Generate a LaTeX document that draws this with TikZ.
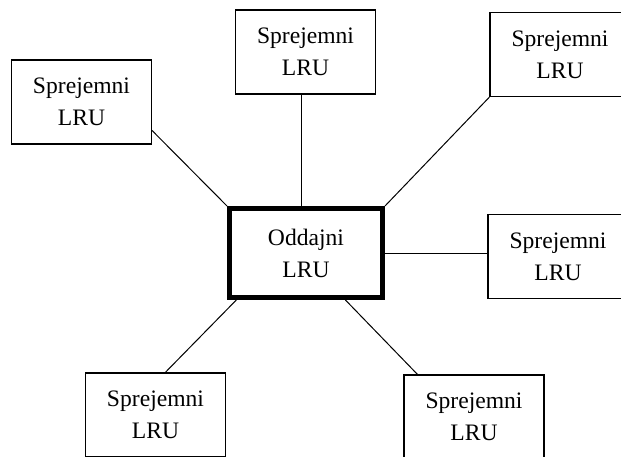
\documentclass[tikz,border=0pt]{standalone}
\usepackage{fontspec}
\setmainfont{Liberation Serif}
\begin{document}
\begin{tikzpicture}[x=0.5pt,y=-0.5pt,
 lru/.style={draw,line width=0.6pt,minimum width=70pt,minimum height=42pt,align=center,inner sep=0pt,font=\fontsize{11.8}{16}\selectfont},
 oddajni/.style={lru,line width=2.5pt,minimum width=76.5pt,minimum height=44.5pt},
 link/.style={line width=0.5pt}]
 \clip (0,0) rectangle (621,456);
 \node[lru] (tl) at (81.5,102) {Sprejemni\\LRU};
 \node[lru] (tc) at (305.5,52) {Sprejemni\\LRU};
 \node[lru] (tr) at (560,54.5) {Sprejemni\\LRU};
 \node[oddajni] (ctr) at (306,253) {Oddajni\\LRU};
 \node[lru] (r) at (558,256.5) {Sprejemni\\LRU};
 \node[lru] (bl) at (155.5,415) {Sprejemni\\LRU};
 \node[lru] (br) at (474,417) {Sprejemni\\LRU};
 \draw[link] (tl.-22) -- (ctr.north west);
 \draw[link] (tc.-95) -- (tc.-95 |- ctr.north);
 \draw[link] (tr.south west) -- (ctr.north east);
 \draw[link] (ctr.east) -- (ctr.east -| r.west);
 \draw[link] (ctr.-146) -- (bl.77);
 \draw[link] (ctr.-50) -- (br.143);
\end{tikzpicture}
\end{document}
